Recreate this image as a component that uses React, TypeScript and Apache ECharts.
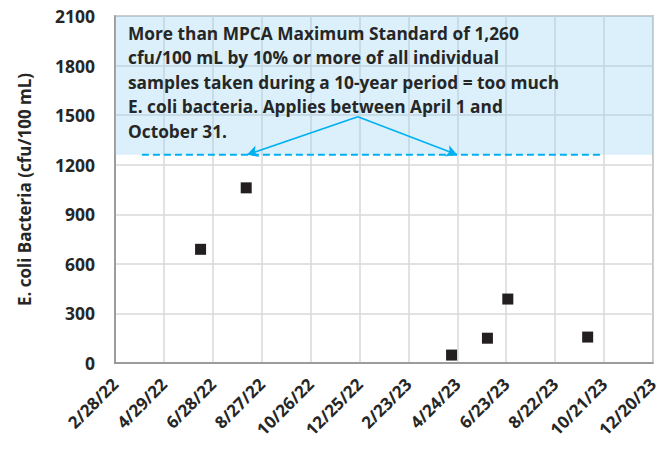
import React, { useEffect, useRef } from "react";
import * as echarts from "echarts";

const sampleDates = ["2022-06-13", "2022-08-08", "2023-04-17", "2023-05-31", "2023-06-25", "2023-10-01"];
const sampleValues = [688, 1060, 48, 150, 387, 157];

const standardValue = 1260;
const axisMaxValue = 2100;
const standardLineDates = ["2022-04-02", "2023-10-16"];
const arrowApex = { date: "2022-12-23", value: 1490 };
const arrowTips = ["2022-08-09", "2023-04-24"];

const xStart = "2022-02-28";
const xEndDays = 660;
const xIntervalDays = 60;

const noteLines = [
  "More than MPCA Maximum Standard of 1,260",
  "cfu/100 mL by 10% or more of all individual",
  "samples taken during a 10-year period = too much",
  "E. coli bacteria. Applies between April 1 and",
  "October 31.",
];

const yAxisName = "E. coli Bacteria (cfu/100 mL)";

const toUTC = (s: string) => {
  const [y, m, d] = s.split("-").map(Number);
  return Date.UTC(y, m - 1, d);
};
const startMs = toUTC(xStart);
const dayOf = (s: string) => Math.round((toUTC(s) - startMs) / 86400000);
const fmtDay = (v: number) => {
  const dt = new Date(startMs + v * 86400000);
  return `${dt.getUTCMonth() + 1}/${dt.getUTCDate()}/${String(dt.getUTCFullYear()).slice(2)}`;
};

const FONT = "Open Sans";
const TEXT_COLOR = "#262626";
const BLUE = "#00B0F0";

export default function App() {
  const ref = useRef<HTMLDivElement>(null);
  useEffect(() => {
    if (!ref.current) return;
    const chart = echarts.init(ref.current, undefined, { renderer: "svg" });
    const points = sampleDates.map((d, i) => [dayOf(d), sampleValues[i]]);
    chart.setOption({
      animation: false,
      backgroundColor: "#ffffff",
      grid: {
        left: 115,
        right: 5,
        top: 16,
        bottom: 88,
        show: true,
        borderColor: "#8c8c8c",
        borderWidth: 1.5,
        backgroundColor: "transparent",
      },
      xAxis: {
        type: "value",
        min: 0,
        max: xEndDays,
        interval: xIntervalDays,
        axisLine: { show: true, lineStyle: { color: "#8c8c8c", width: 1.5 } },
        axisTick: { show: false },
        splitLine: { show: true, lineStyle: { color: "#d9d9d9", width: 1.5 } },
        axisLabel: {
          rotate: 45,
          margin: 18,
          fontFamily: FONT,
          fontWeight: "bold",
          fontSize: 17,
          color: TEXT_COLOR,
          formatter: (v: number) => fmtDay(v),
        },
      },
      yAxis: {
        type: "value",
        min: 0,
        max: axisMaxValue,
        interval: 300,
        name: yAxisName,
        nameLocation: "middle",
        nameGap: 82,
        nameRotate: 90,
        nameTextStyle: { fontFamily: FONT, fontWeight: "bold", fontSize: 17, color: TEXT_COLOR },
        axisLine: { show: true, lineStyle: { color: "#8c8c8c", width: 1.5 } },
        axisTick: { show: false },
        splitLine: { show: true, lineStyle: { color: "#d9d9d9", width: 1.5 } },
        axisLabel: {
          margin: 20,
          fontFamily: FONT,
          fontWeight: "bold",
          fontSize: 17.5,
          color: TEXT_COLOR,
          formatter: (v: number) => String(v),
        },
      },
      series: [
        {
          type: "line",
          data: standardLineDates.map((d) => [dayOf(d), standardValue]),
          symbol: "none",
          lineStyle: { color: BLUE, width: 2, type: [7, 4] },
          z: 3,
          markArea: {
            silent: true,
            itemStyle: { color: "rgba(135,206,240,0.3)" },
            data: [[{ yAxis: standardValue }, { yAxis: axisMaxValue }]],
          },
          markLine: {
            silent: true,
            symbol: ["none", "arrow"],
            symbolSize: [9, 11],
            label: { show: false },
            lineStyle: { color: BLUE, width: 1.5, type: "solid" },
            data: arrowTips.map((t) => [
              { coord: [dayOf(arrowApex.date), arrowApex.value] },
              { coord: [dayOf(t), standardValue] },
            ]),
          },
        },
        {
          type: "scatter",
          data: points,
          symbol: "rect",
          symbolSize: 11,
          itemStyle: { color: "#231f20", opacity: 1 },
          z: 5,
        },
      ],
      graphic: [
        {
          type: "text",
          left: 128,
          top: 21,
          z: 10,
          style: {
            text: noteLines.join("\n"),
            font: `bold 17.3px "${FONT}"`,
            lineHeight: 24.5,
            fill: TEXT_COLOR,
          },
        },
      ],
    });
    return () => chart.dispose();
  }, []);
  return <div ref={ref} style={{ position: "fixed", left: 0, top: 0, width: 661, height: 451 }} />;
}
